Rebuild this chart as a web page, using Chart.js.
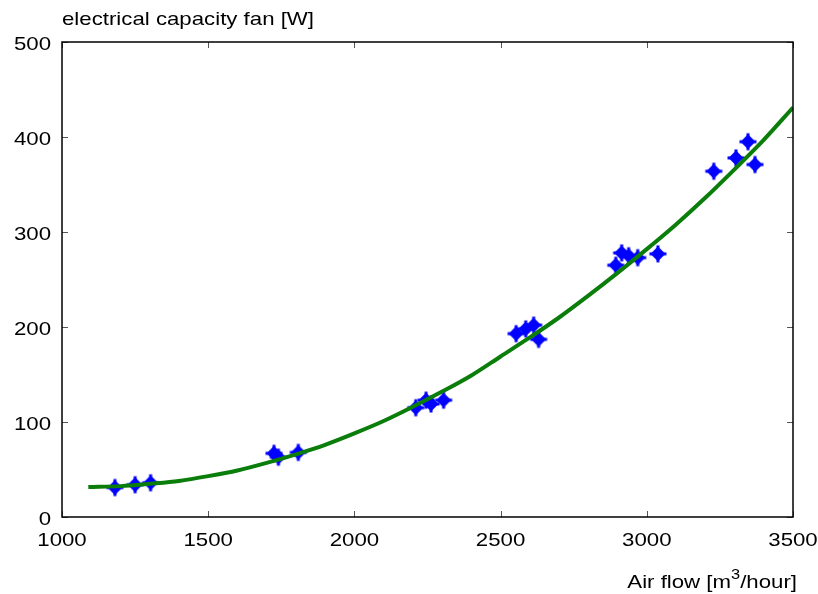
<!DOCTYPE html>
<html>
<head>
<meta charset="utf-8">
<script src="https://cdn.jsdelivr.net/npm/chart.js@4/dist/chart.umd.min.js"></script>
<style>
  html, body { margin: 0; padding: 0; background: #fff; }
  #wrap { width: 818px; height: 594px; position: relative; }
</style>
</head>
<body>
<div id="wrap"><canvas id="fanChart" width="818" height="594"></canvas></div>
<script>
/* ─── Data ──────────────────────────────────────────────── */
const measFlow  = [1181, 1250, 1303, 1725, 1740, 1808, 2210, 2245, 2262, 2305,
                   2553, 2586, 2613, 2630, 2894, 2914, 2938, 2969, 3038,
                   3229, 3305, 3346, 3370];
const measPower = [31, 34, 36, 67, 63, 68, 115, 123, 119, 123,
                   193, 198, 202, 187, 265, 278, 275, 273, 277,
                   364, 378, 395, 371];

const fitFlow  = [1090, 1200, 1300, 1400, 1500, 1600, 1700, 1800, 1900, 2000,
                  2100, 2200, 2300, 2400, 2500, 2600, 2700, 2800, 2900, 3000,
                  3100, 3200, 3300, 3400, 3500];
const fitPower = [31.5, 32.5, 35, 38, 43, 49, 57, 66, 76, 88,
                  101, 116, 132, 149, 169, 189, 210, 233, 257, 282,
                  308, 336, 366, 397, 431];

const xTicks = [1000, 1500, 2000, 2500, 3000, 3500];
const yTicks = [0, 100, 200, 300, 400, 500];

const FONT = 'Liberation Sans, Arial, sans-serif';
const STRETCH = 1.17;   // reference text is drawn a bit wide

/* ─── Marker: diamond with small cross arms ─────────────── */
function makeMarker() {
  const c = document.createElement('canvas');
  c.width = 20; c.height = 20;
  const g = c.getContext('2d');
  g.fillStyle = '#0000ff';
  g.beginPath();
  g.moveTo(10, 2.5); g.lineTo(17.5, 10); g.lineTo(10, 17.5); g.lineTo(2.5, 10);
  g.closePath(); g.fill();
  g.fillRect(8.5, 1.5, 3, 17);
  g.fillRect(1.5, 8.5, 17, 3);
  return c;
}

// wide text helper: x is the anchor, align left/center/right
function wideText(ctx, str, x, y, align, size) {
  ctx.font = size + 'px ' + FONT;
  const w = ctx.measureText(str).width * STRETCH;
  let left = x;
  if (align === 'center') left = x - w / 2;
  if (align === 'right')  left = x - w;
  ctx.save();
  ctx.translate(left, y);
  ctx.scale(STRETCH, 1);
  ctx.textAlign = 'left';
  ctx.fillText(str, 0, 0);
  ctx.restore();
  return w;
}

/* ─── Frame, inner ticks, labels, titles ────────────────── */
const framePlugin = {
  id: 'frame',
  afterDraw(chart) {
    const { ctx, chartArea: a, scales } = chart;
    ctx.save();
    ctx.strokeStyle = '#555';
    ctx.lineWidth = 1;
    xTicks.forEach(v => {
      const px = Math.round(scales.x.getPixelForValue(v)) + 0.5;
      ctx.beginPath();
      ctx.moveTo(px, a.bottom); ctx.lineTo(px, a.bottom - 6);
      ctx.moveTo(px, a.top);    ctx.lineTo(px, a.top + 6);
      ctx.stroke();
    });
    yTicks.forEach(v => {
      const py = Math.round(scales.y.getPixelForValue(v)) + 0.5;
      ctx.beginPath();
      ctx.moveTo(a.left, py);  ctx.lineTo(a.left + 6, py);
      ctx.moveTo(a.right, py); ctx.lineTo(a.right - 6, py);
      ctx.stroke();
    });
    ctx.strokeStyle = '#000';
    ctx.lineWidth = 1.5;
    ctx.strokeRect(a.left, a.top, a.right - a.left, a.bottom - a.top);

    ctx.fillStyle = '#000';
    ctx.textBaseline = 'middle';
    xTicks.forEach(v => wideText(ctx, String(v), scales.x.getPixelForValue(v), a.bottom + 24, 'center', 19));
    yTicks.forEach(v => wideText(ctx, String(v), a.left - 11, scales.y.getPixelForValue(v) + 3, 'right', 19));

    ctx.textBaseline = 'alphabetic';
    wideText(ctx, 'electrical capacity fan [W]', 62, 25, 'left', 19);

    // x title, right aligned, with superscript 3
    ctx.font = '19px ' + FONT;
    const w1 = ctx.measureText('Air flow [m').width * STRETCH;
    const w3 = ctx.measureText('/hour]').width * STRETCH;
    ctx.font = '14px ' + FONT;
    const w2 = ctx.measureText('3').width * STRETCH;
    const x = 797 - (w1 + w2 + w3);
    wideText(ctx, 'Air flow [m', x, 588, 'left', 19);
    wideText(ctx, '3', x + w1, 579, 'left', 14);
    wideText(ctx, '/hour]', x + w1 + w2, 588, 'left', 19);
    ctx.restore();
  }
};

/* ─── Chart ─────────────────────────────────────────────── */
new Chart(document.getElementById('fanChart'), {
  type: 'scatter',
  data: {
    datasets: [
      {
        label: 'fit',
        type: 'line',
        data: fitFlow.map((f, i) => ({ x: f, y: fitPower[i] })),
        borderColor: '#0a7d0a',
        borderWidth: 4,
        pointRadius: 0,
        cubicInterpolationMode: 'monotone',
        fill: false,
        order: 1
      },
      {
        label: 'measured',
        data: measFlow.map((f, i) => ({ x: f, y: measPower[i] })),
        pointStyle: makeMarker(),
        order: 2
      }
    ]
  },
  options: {
    responsive: false,
    animation: false,
    devicePixelRatio: 1,
    layout: { padding: { top: 42, right: 25, bottom: 0, left: 0 } },
    plugins: { legend: { display: false }, tooltip: { enabled: false } },
    scales: {
      x: {
        type: 'linear',
        min: 1000, max: 3500,
        afterBuildTicks: s => { s.ticks = xTicks.map(v => ({ value: v })); },
        afterFit: s => { s.height = 77; },
        grid: { display: false, drawTicks: false },
        border: { display: false },
        ticks: { display: false }
      },
      y: {
        type: 'linear',
        min: 0, max: 500,
        afterBuildTicks: s => { s.ticks = yTicks.map(v => ({ value: v })); },
        afterFit: s => { s.width = 62; },
        grid: { display: false, drawTicks: false },
        border: { display: false },
        ticks: { display: false }
      }
    }
  },
  plugins: [framePlugin]
});
</script>
</body>
</html>
